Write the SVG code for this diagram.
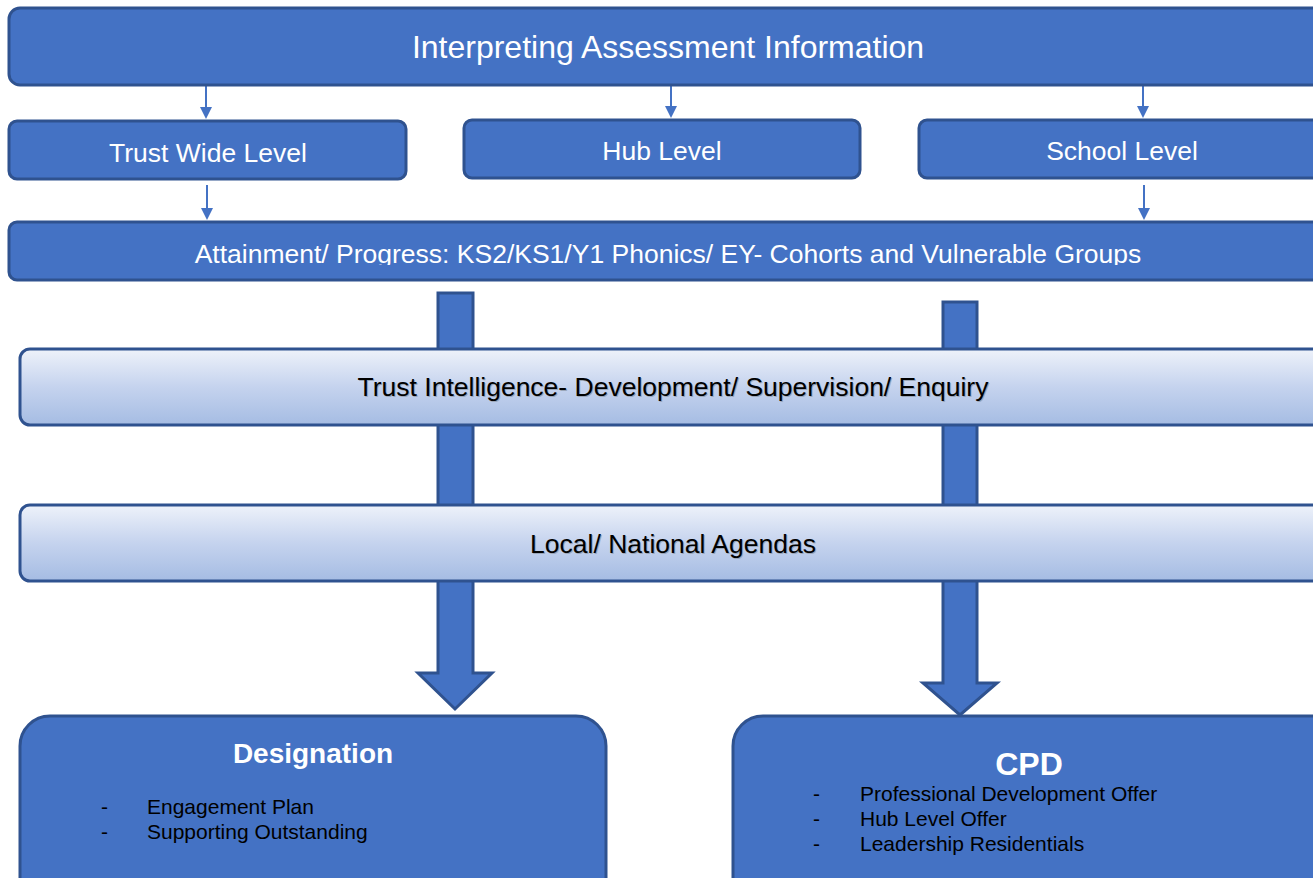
<svg xmlns="http://www.w3.org/2000/svg" width="1313" height="878" viewBox="0 0 1313 878">
<defs>
<style>
.box{fill:#4472C4;stroke:#2F528F;stroke-width:3}
.gbox{fill:url(#g);stroke:#2F528F;stroke-width:3}
.big{fill:#4472C4;stroke:#2F528F;stroke-width:3;stroke-linejoin:miter}
.thin{stroke:#4472C4;stroke-width:2;fill:none}
.w{fill:#FFFFFF;font-family:"Liberation Sans",Arial,sans-serif;text-anchor:middle}
.k{fill:#000000;font-family:"Liberation Sans",Arial,sans-serif}
.sh{fill:#9aa6b8;font-family:"Liberation Sans",Arial,sans-serif;text-anchor:middle}
</style>
<linearGradient id="g" x1="0" y1="0" x2="0" y2="1">
<stop offset="0" stop-color="#EEF2FA"/>
<stop offset="0.5" stop-color="#C5D3EE"/>
<stop offset="1" stop-color="#A5BCE3"/>
</linearGradient>
<clipPath id="clipA"><rect x="0" y="221" width="1313" height="44"/></clipPath>
</defs>

<g id="connectors">
<line class="thin" x1="206" y1="86" x2="206" y2="108"/>
<path d="M200,107 L212,107 L206,119 Z" fill="#4472C4"/>
<line class="thin" x1="671" y1="86" x2="671" y2="107"/>
<path d="M665,106 L677,106 L671,118 Z" fill="#4472C4"/>
<line class="thin" x1="1143" y1="86" x2="1143" y2="107"/>
<path d="M1137,106 L1149,106 L1143,118 Z" fill="#4472C4"/>
<line class="thin" x1="207" y1="185" x2="207" y2="209"/>
<path d="M201,208 L213,208 L207,220 Z" fill="#4472C4"/>
<line class="thin" x1="1144" y1="185" x2="1144" y2="209"/>
<path d="M1138,208 L1150,208 L1144,220 Z" fill="#4472C4"/>
<path class="big" d="M438,293 L473,293 L473,673 L492,673 L455,709 L418,673 L438,673 Z"/>
<path class="big" d="M943,302 L977,302 L977,683 L997,683 L960,715 L923,683 L943,683 Z"/>
</g>

<g id="n-top">
<rect class="box" x="9" y="8" width="1330" height="77" rx="11"/>
<text class="w" x="668" y="58" font-size="32">Interpreting Assessment Information</text>
</g>
<g id="n-trust">
<rect class="box" x="9" y="121" width="397" height="58" rx="8"/>
<text class="w" x="208" y="162" font-size="26.5">Trust Wide Level</text>
</g>
<g id="n-hub">
<rect class="box" x="464" y="120" width="396" height="58" rx="8"/>
<text class="w" x="662" y="160" font-size="26.5">Hub Level</text>
</g>
<g id="n-school">
<rect class="box" x="919" y="120" width="420" height="58" rx="8"/>
<text class="w" x="1122" y="160" font-size="26.5">School Level</text>
</g>
<g id="n-attain">
<rect class="box" x="9" y="222" width="1330" height="58" rx="8"/>
<text class="w" x="668" y="263" font-size="26.5" clip-path="url(#clipA)">Attainment/ Progress: KS2/KS1/Y1 Phonics/ EY- Cohorts and Vulnerable Groups</text>
</g>
<g id="n-intel">
<rect class="gbox" x="20" y="349" width="1320" height="76" rx="10"/>
<text class="sh" x="674" y="397" font-size="26.5">Trust Intelligence- Development/ Supervision/ Enquiry</text>
<text class="k" x="673" y="396" font-size="26.5" text-anchor="middle">Trust Intelligence- Development/ Supervision/ Enquiry</text>
</g>
<g id="n-local">
<rect class="gbox" x="20" y="505" width="1320" height="76" rx="10"/>
<text class="sh" x="674" y="554" font-size="26.5">Local/ National Agendas</text>
<text class="k" x="673" y="553" font-size="26.5" text-anchor="middle">Local/ National Agendas</text>
</g>
<g id="n-designation">
<rect class="box" x="20" y="716" width="586" height="200" rx="30"/>
<text class="w" x="313" y="763" font-size="28" font-weight="bold">Designation</text>
<text class="k" x="101" y="814" font-size="21">-</text>
<text class="k" x="147" y="814" font-size="21">Engagement Plan</text>
<text class="k" x="101" y="839" font-size="21">-</text>
<text class="k" x="147" y="839" font-size="21">Supporting Outstanding</text>
</g>
<g id="n-cpd">
<rect class="box" x="733" y="716" width="620" height="200" rx="30"/>
<text class="w" x="1029" y="775" font-size="32" font-weight="bold">CPD</text>
<text class="k" x="813" y="801" font-size="21">-</text>
<text class="k" x="860" y="801" font-size="21">Professional Development Offer</text>
<text class="k" x="813" y="826" font-size="21">-</text>
<text class="k" x="860" y="826" font-size="21">Hub Level Offer</text>
<text class="k" x="813" y="851" font-size="21">-</text>
<text class="k" x="860" y="851" font-size="21">Leadership Residentials</text>
</g>
</svg>
